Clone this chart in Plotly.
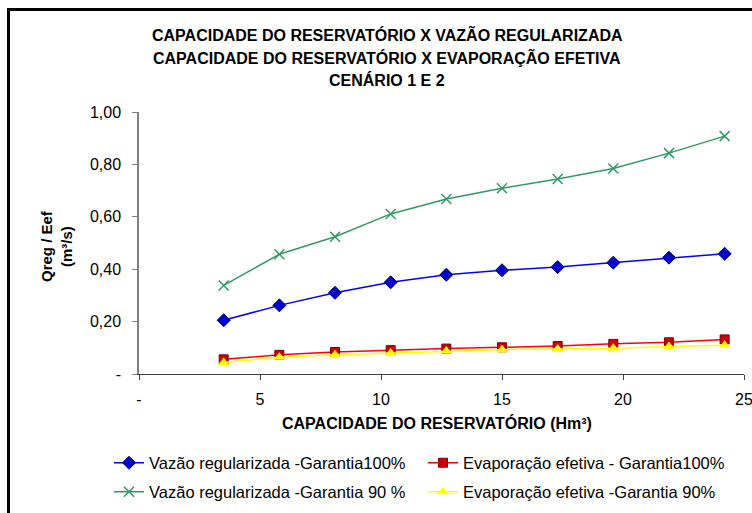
import plotly.graph_objects as go

# Reservoir capacity (Hm³)
capacidade = [3.5, 5.8, 8.1, 10.4, 12.7, 15.0, 17.3, 19.6, 21.9, 24.2]

# Regularized flow and effective evaporation (m³/s)
vazao_100 = [0.205, 0.262, 0.310, 0.350, 0.379, 0.396, 0.408, 0.425, 0.444, 0.459]
evap_100 = [0.056, 0.073, 0.084, 0.091, 0.097, 0.102, 0.107, 0.115, 0.121, 0.132]
vazao_90 = [0.338, 0.457, 0.524, 0.611, 0.668, 0.709, 0.744, 0.784, 0.843, 0.908]
evap_90 = [0.044, 0.064, 0.073, 0.080, 0.088, 0.093, 0.095, 0.098, 0.105, 0.110]

nomes = [
    "Vazão regularizada -Garantia100%",
    "Evaporação efetiva - Garantia100%",
    "Vazão regularizada -Garantia 90 %",
    "Evaporação efetiva -Garantia 90%",
]

y_ticks = [0, 0.2, 0.4, 0.6, 0.8, 1.0]
y_ticktext = ["-", "0,20", "0,40", "0,60", "0,80", "1,00"]
x_ticks = [0, 5, 10, 15, 20, 25]
x_ticktext = ["-", "5", "10", "15", "20", "25"]

titulo = [
    "CAPACIDADE DO RESERVATÓRIO X VAZÃO REGULARIZADA",
    "CAPACIDADE DO RESERVATÓRIO X EVAPORAÇÃO EFETIVA",
    "CENÁRIO 1 E 2",
]

FONT = "Liberation Sans, Arial, sans-serif"
W, H = 752, 513
L, R, T, B = 139, 8, 112, 139
PW, PH = W - L - R, H - T - B


def px_x(px):
    return (px - L) / PW


def px_y(py):
    return (H - B - py) / PH


fig = go.Figure()

fig.add_trace(go.Scatter(
    x=capacidade, y=vazao_100, name=nomes[0], mode="lines+markers",
    line=dict(color="#0000FF", width=1.5),
    marker=dict(symbol="diamond", size=10, color="#0000CC",
                line=dict(color="#000080", width=1)),
    legend="legend",
))
fig.add_trace(go.Scatter(
    x=capacidade, y=evap_100, name=nomes[1], mode="lines+markers",
    line=dict(color="#FF0000", width=1.5),
    marker=dict(symbol="square", size=9, color="#CC0000",
                line=dict(color="#800000", width=1)),
    legend="legend",
))
fig.add_trace(go.Scatter(
    x=capacidade, y=vazao_90, name=nomes[2], mode="lines+markers",
    line=dict(color="#339966", width=1.5),
    marker=dict(symbol="x-thin", size=10, color="#339966",
                line=dict(color="#339966", width=1.5)),
    legend="legend2",
))
fig.add_trace(go.Scatter(
    x=capacidade, y=evap_90, name=nomes[3], mode="lines+markers",
    line=dict(color="#FFFF00", width=1.5),
    marker=dict(symbol="triangle-up", size=10, color="#FFFF00",
                line=dict(color="#FFFF00", width=0)),
    legend="legend2",
))

legend_style = dict(
    orientation="h", xref="paper", yref="paper",
    xanchor="left", yanchor="middle",
    font=dict(family=FONT, size=16.5, color="#000000"),
    entrywidth=269, bgcolor="rgba(0,0,0,0)",
    traceorder="normal", itemclick=False,
)

annotations = []
for i, linha in enumerate(titulo):
    annotations.append(dict(
        text=f"<b>{linha}</b>", xref="paper", yref="paper",
        x=px_x(387), y=px_y(34 + 23 * i), xanchor="center", yanchor="middle",
        showarrow=False, font=dict(family=FONT, size=16, color="#000000"),
    ))
annotations.append(dict(
    text="<b>CAPACIDADE DO RESERVATÓRIO (Hm³)</b>", xref="paper", yref="paper",
    x=px_x(437), y=px_y(423), xanchor="center", yanchor="middle",
    showarrow=False, font=dict(family=FONT, size=16, color="#000000"),
))
annotations.append(dict(
    text="<b>Qreg / Eef</b><br><b>(m³/s)</b>", xref="paper", yref="paper",
    x=px_x(56), y=px_y(246), xanchor="center", yanchor="middle",
    textangle=-90, showarrow=False,
    font=dict(family=FONT, size=15, color="#000000"),
))

fig.update_layout(
    width=W, height=H,
    margin=dict(l=L, r=R, t=T, b=B, autoexpand=False),
    paper_bgcolor="#FFFFFF", plot_bgcolor="#FFFFFF",
    font=dict(family=FONT, size=16, color="#000000"),
    showlegend=True,
    legend=dict(x=px_x(109), y=px_y(463), **legend_style),
    legend2=dict(x=px_x(109), y=px_y(492), **legend_style),
    annotations=annotations,
    shapes=[dict(
        type="rect", xref="paper", yref="paper",
        x0=px_x(8.5), x1=px_x(900), y0=px_y(700), y1=px_y(9.5),
        line=dict(color="#000000", width=3), fillcolor="rgba(0,0,0,0)",
        layer="above",
    )],
)

fig.update_xaxes(
    range=[0, 25], tickvals=x_ticks, ticktext=x_ticktext,
    showgrid=False, zeroline=False,
    showline=True, linecolor="#404040", linewidth=1,
    ticks="outside", ticklen=5, tickcolor="#404040",
    ticklabelstandoff=6, ticklabeloverflow="allow",
    tickfont=dict(family=FONT, size=16, color="#000000"),
)
fig.update_yaxes(
    range=[0, 1.0], tickvals=y_ticks, ticktext=y_ticktext,
    showgrid=False, zeroline=False,
    showline=True, linecolor="#808080", linewidth=1.5,
    ticks="outside", ticklen=5, tickcolor="#808080",
    ticklabelstandoff=8,
    tickfont=dict(family=FONT, size=16, color="#000000"),
)

fig.write_html("out.html")
